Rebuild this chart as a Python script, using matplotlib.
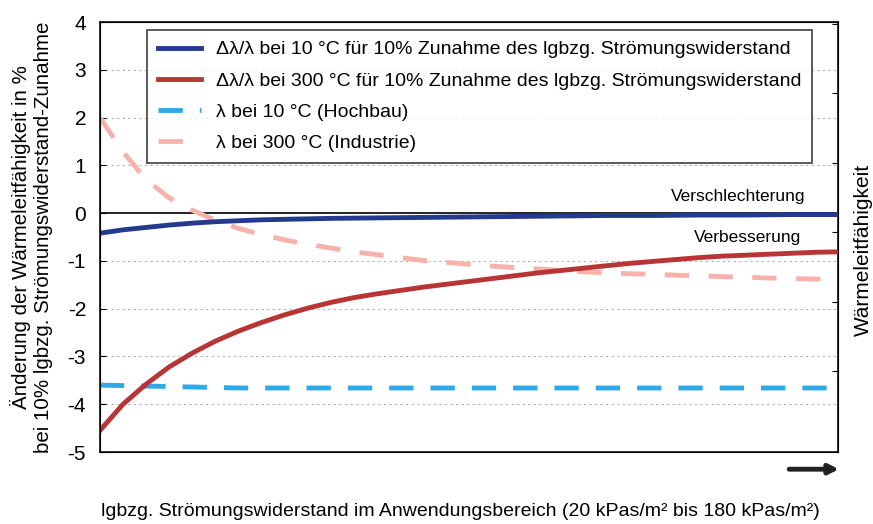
import numpy as np
import matplotlib.pyplot as plt

plt.rcParams['font.family'] = ['Liberation Sans', 'DejaVu Sans']
plt.rcParams['axes.unicode_minus'] = False

# Strömungswiderstand in kPas/m² (Anwendungsbereich 20 bis 180)
resistance = [20, 25, 30, 35, 40, 45, 50, 55, 60, 65, 70, 75, 80, 85, 90, 95, 100,
              105, 110, 115, 120, 125, 130, 135, 140, 145, 150, 155, 160, 165, 170, 175, 180]

# Änderung der Wärmeleitfähigkeit in % bei 10% Zunahme
delta_10 = [-0.42, -0.35, -0.30, -0.25, -0.21, -0.18, -0.16, -0.14, -0.13, -0.12, -0.11,
            -0.105, -0.10, -0.095, -0.09, -0.085, -0.08, -0.075, -0.07, -0.065, -0.06,
            -0.055, -0.05, -0.05, -0.05, -0.045, -0.04, -0.04, -0.04, -0.035, -0.03, -0.03, -0.03]
delta_300 = [-4.55, -4.00, -3.58, -3.22, -2.93, -2.68, -2.47, -2.29, -2.13, -1.99, -1.87,
             -1.77, -1.69, -1.62, -1.55, -1.49, -1.43, -1.37, -1.31, -1.25, -1.20,
             -1.15, -1.10, -1.05, -1.01, -0.97, -0.93, -0.90, -0.88, -0.86, -0.84, -0.82, -0.81]

# Wärmeleitfähigkeit (rechte Achse, ohne Skala) - in den Koordinaten der linken Achse
lambda_10 = [-3.60, -3.61, -3.62, -3.63, -3.64, -3.65, -3.66, -3.66, -3.66, -3.66, -3.66,
             -3.66, -3.66, -3.66, -3.66, -3.66, -3.66, -3.66, -3.66, -3.66, -3.66,
             -3.66, -3.66, -3.66, -3.66, -3.66, -3.66, -3.66, -3.66, -3.66, -3.66, -3.66, -3.66]
lambda_300 = [2.00, 1.28, 0.70, 0.32, 0.06, -0.15, -0.32, -0.45, -0.56, -0.65, -0.73,
              -0.81, -0.87, -0.93, -0.99, -1.03, -1.07, -1.11, -1.14, -1.17, -1.20,
              -1.23, -1.25, -1.27, -1.28, -1.30, -1.31, -1.33, -1.34, -1.36, -1.37, -1.38, -1.39]

labels = ['\u0394\u03bb/\u03bb bei 10 °C für 10% Zunahme des lgbzg. Strömungswiderstand',
          '\u0394\u03bb/\u03bb bei 300 °C für 10% Zunahme des lgbzg. Strömungswiderstand',
          '\u03bb bei 10 °C (Hochbau)',
          '\u03bb bei 300 °C (Industrie)']

fig = plt.figure(figsize=(8.73, 5.24), dpi=100)
ax = fig.add_axes([0.1145, 0.1374, 0.8455, 0.8206])

# grid + zero line
for yv in [3, 2, 1, -1, -2, -3, -4]:
    ax.axhline(yv, color='#b0b0b0', lw=0.8, ls=(0, (2, 3)), zorder=0)
ax.axhline(0, color='black', lw=1.2, zorder=1)

ax.plot(resistance, delta_10, color='#233a8e', lw=3.5, label=labels[0], zorder=4)
ax.plot(resistance, delta_300, color='#b93434', lw=3.5, label=labels[1], zorder=3)
ax.plot(resistance, lambda_10, color='#2eaae8', lw=3.5, ls=(0, (5, 3.5)), label=labels[2], zorder=2)
ax.plot(resistance, lambda_300, color='#f7b3ab', lw=3.5, ls=(0, (5, 4)), label=labels[3], zorder=2)

ax.set_xlim(20, 180)
ax.set_ylim(-5, 4)
ax.set_xticks([])
ax.set_yticks(range(-5, 5))
ax.tick_params(axis='y', direction='in', length=4, pad=10, labelsize=15)
for s in ax.spines.values():
    s.set_linewidth(1.3)
    s.set_color('#222222')

ax.set_ylabel('Änderung der Wärmeleitfähigkeit in %\nbei 10% lgbzg. Strömungswiderstand-Zunahme',
              fontsize=14.8, linespacing=1.25, multialignment='center')
ax.yaxis.set_label_coords(-0.063, 0.5)

# right axis: only tick marks, no values
ax2 = ax.twinx()
ax2.set_ylim(-0.17, 6.03)
ax2.set_yticks([1, 2, 3, 4, 5, 6])
ax2.set_yticklabels([])
ax2.tick_params(axis='y', direction='in', length=4)
ax2.set_ylabel('Wärmeleitfähigkeit', fontsize=15)
ax2.yaxis.set_label_coords(1.021, 0.47)

ax.text(0.865, 0.595, 'Verschlechterung', transform=ax.transAxes, ha='center', va='center', fontsize=12.5)
ax.text(0.878, 0.50, 'Verbesserung', transform=ax.transAxes, ha='center', va='center', fontsize=12.5)

# arrow below the axis
ax.annotate('', xy=(1.005, -0.04), xytext=(0.93, -0.04), xycoords='axes fraction',
            arrowprops=dict(arrowstyle='-|>', color='#222222', lw=3.5, mutation_scale=14),
            annotation_clip=False)

fig.text(0.527, 0.008, 'lgbzg. Strömungswiderstand im Anwendungsbereich (20 kPas/m² bis 180 kPas/m²)',
         ha='center', va='bottom', fontsize=14)

leg = ax.legend(loc='upper left', bbox_to_anchor=(0.064, 0.981), borderaxespad=0,
                fontsize=14, frameon=True, fancybox=False, handlelength=2.2,
                labelspacing=0.7, borderpad=0.55)
leg.get_frame().set_edgecolor('#222222')
leg.get_frame().set_linewidth(1.3)
leg.set_zorder(10)

fig.savefig('out.png', dpi=100)
